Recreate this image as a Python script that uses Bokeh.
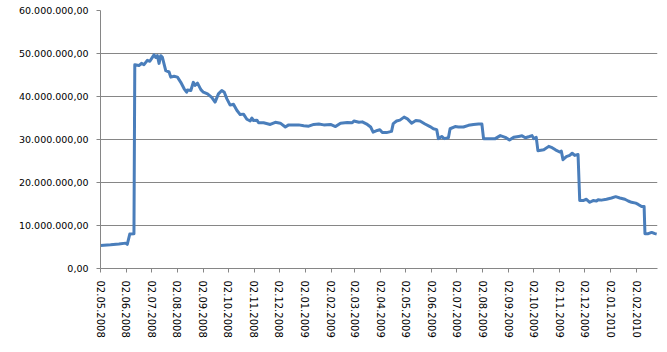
import pandas as pd
from bokeh.plotting import figure
from bokeh.models import Range1d, FixedTicker, DatetimeTickFormatter, CustomJSTickFormatter
from bokeh.embed import file_html
from bokeh.resources import INLINE

dates = [
    "2008-05-02", "2008-05-14", "2008-05-24", "2008-06-01", "2008-06-03", "2008-06-06",
    "2008-06-11", "2008-06-12", "2008-06-17", "2008-06-20", "2008-06-23", "2008-06-27",
    "2008-06-30", "2008-07-03", "2008-07-05", "2008-07-07", "2008-07-09", "2008-07-11",
    "2008-07-13", "2008-07-15", "2008-07-19", "2008-07-23", "2008-07-25", "2008-07-29",
    "2008-08-02", "2008-08-06", "2008-08-10", "2008-08-13", "2008-08-14", "2008-08-18",
    "2008-08-21", "2008-08-23", "2008-08-26", "2008-08-30", "2008-09-02", "2008-09-07",
    "2008-09-12", "2008-09-16", "2008-09-20", "2008-09-24", "2008-09-27", "2008-09-30",
    "2008-10-04", "2008-10-08", "2008-10-12", "2008-10-16", "2008-10-20", "2008-10-24",
    "2008-10-28", "2008-10-30", "2008-11-01", "2008-11-05", "2008-11-07", "2008-11-13",
    "2008-11-21", "2008-11-27", "2008-12-03", "2008-12-09", "2008-12-13", "2008-12-25",
    "2008-12-31", "2009-01-06", "2009-01-12", "2009-01-18", "2009-01-24", "2009-02-01",
    "2009-02-07", "2009-02-13", "2009-02-21", "2009-02-27", "2009-03-01", "2009-03-07",
    "2009-03-11", "2009-03-17", "2009-03-21", "2009-03-24", "2009-03-29", "2009-04-01",
    "2009-04-04", "2009-04-09", "2009-04-15", "2009-04-17", "2009-04-21", "2009-04-25",
    "2009-04-30", "2009-05-04", "2009-05-09", "2009-05-14", "2009-05-19", "2009-05-25",
    "2009-05-31", "2009-06-04", "2009-06-08", "2009-06-10", "2009-06-14", "2009-06-17",
    "2009-06-22", "2009-06-24", "2009-06-30", "2009-07-04", "2009-07-10", "2009-07-16",
    "2009-07-22", "2009-07-28", "2009-08-01", "2009-08-03", "2009-08-09", "2009-08-17",
    "2009-08-23", "2009-08-29", "2009-09-03", "2009-09-08", "2009-09-14", "2009-09-18",
    "2009-09-22", "2009-09-27", "2009-09-30", "2009-10-02", "2009-10-05", "2009-10-07",
    "2009-10-14", "2009-10-20", "2009-10-24", "2009-10-28", "2009-11-02", "2009-11-04",
    "2009-11-06", "2009-11-10", "2009-11-14", "2009-11-17", "2009-11-20", "2009-11-24",
    "2009-11-26", "2009-11-30", "2009-12-04", "2009-12-08", "2009-12-12", "2009-12-16",
    "2009-12-18", "2009-12-22", "2009-12-28", "2010-01-03", "2010-01-08", "2010-01-13",
    "2010-01-19", "2010-01-23", "2010-01-27", "2010-02-01", "2010-02-04", "2010-02-08",
    "2010-02-11", "2010-02-12", "2010-02-16", "2010-02-20", "2010-02-24", "2010-02-26",
]

values_mio = [
    5.35, 5.5, 5.7, 5.9, 5.6, 8.0,
    8.1, 47.4, 47.2, 47.7, 47.4, 48.4,
    48.2, 49.1, 49.7, 49.1, 49.5, 47.7,
    49.5, 49.1, 46.0, 45.7, 44.5, 44.7,
    44.5, 43.3, 41.8, 41.0, 41.5, 41.4,
    43.3, 42.6, 43.1, 41.6, 41.0, 40.6,
    39.8, 38.7, 40.6, 41.4, 41.0, 39.5,
    38.0, 38.2, 36.8, 35.8, 35.9, 34.7,
    34.3, 35.0, 34.4, 34.5, 33.9, 33.9,
    33.5, 34.0, 33.8, 32.9, 33.4, 33.4,
    33.2, 33.1, 33.5, 33.6, 33.4, 33.5,
    33.0, 33.8, 33.95, 33.9, 34.3, 34.0,
    34.1, 33.5, 32.9, 31.7, 32.1, 32.25,
    31.6, 31.6, 31.9, 33.7, 34.3, 34.5,
    35.2, 34.8, 33.8, 34.4, 34.3, 33.6,
    33.0, 32.5, 32.3, 30.2, 30.7, 30.2,
    30.4, 32.5, 33.0, 32.9, 32.9, 33.3,
    33.5, 33.6, 33.6, 30.2, 30.2, 30.2,
    30.9, 30.5, 29.9, 30.5, 30.7, 30.85,
    30.4, 30.7, 30.9, 30.2, 30.5, 27.4,
    27.6, 28.4, 28.1, 27.6, 27.1, 27.3,
    25.3, 26.0, 26.3, 26.8, 26.3, 26.5,
    15.8, 15.8, 16.1, 15.4, 15.8, 15.7,
    16.0, 15.9, 16.1, 16.4, 16.7, 16.4,
    16.1, 15.7, 15.4, 15.2, 14.9, 14.4,
    14.4, 8.1, 8.1, 8.4, 8.1, 8.0,
]

tick_dates = [
    "2008-05-02", "2008-06-02", "2008-07-02", "2008-08-02", "2008-09-02", "2008-10-02",
    "2008-11-02", "2008-12-02", "2009-01-02", "2009-02-02", "2009-03-02", "2009-04-02",
    "2009-05-02", "2009-06-02", "2009-07-02", "2009-08-02", "2009-09-02", "2009-10-02",
    "2009-11-02", "2009-12-02", "2010-01-02", "2010-02-02",
]
y_ticks = [0, 10000000, 20000000, 30000000, 40000000, 50000000, 60000000]

x = pd.to_datetime(dates)
y = [v * 1e6 for v in values_mio]

x_start = pd.Timestamp("2008-05-02")
x_end = pd.Timestamp("2010-02-27")

p = figure(width=667, height=352, x_axis_type="datetime", output_backend="svg",
           toolbar_location=None,
           x_range=Range1d(x_start, x_end), y_range=Range1d(0, 60000000),
           min_border_left=100, min_border_right=10, min_border_top=10, min_border_bottom=84)
p.outline_line_color = None
p.background_fill_color = "white"
p.border_fill_color = "white"

p.line(x, y, line_color="#4a7ebb", line_width=3, line_join="round")

grid_col = "#868686"
font = "DejaVu Sans"

p.xgrid.visible = False
p.ygrid.grid_line_color = grid_col
p.ygrid.grid_line_width = 1
p.ygrid.ticker = FixedTicker(ticks=y_ticks)

tick_ms = [pd.Timestamp(d).value // 10**6 for d in tick_dates]
xa = p.xaxis[0]
xa.ticker = FixedTicker(ticks=tick_ms, minor_ticks=[])
fmt = "%d.%m.%Y"
xa.formatter = DatetimeTickFormatter(
    microseconds=fmt, milliseconds=fmt, seconds=fmt, minsec=fmt, minutes=fmt,
    hourmin=fmt, hours=fmt, days=fmt, months=fmt, years=fmt)
xa.major_label_orientation = "vertical"
xa.axis_line_color = grid_col
xa.major_tick_line_color = grid_col
xa.major_tick_in = 0
xa.major_tick_out = 4
xa.minor_tick_line_color = None
xa.major_label_text_font = font
xa.major_label_text_font_size = "10px"
xa.major_label_text_color = "#000000"
xa.major_label_standoff = 8

ya = p.yaxis[0]
ya.ticker = FixedTicker(ticks=y_ticks, minor_ticks=[])
ya.formatter = CustomJSTickFormatter(code="""
const s = Math.round(tick).toString().replace(/\\B(?=(\\d{3})+(?!\\d))/g, ".");
return s + ",00";
""")
ya.axis_line_color = grid_col
ya.major_tick_line_color = grid_col
ya.major_tick_in = 0
ya.major_tick_out = 4
ya.minor_tick_line_color = None
ya.major_label_text_font = font
ya.major_label_text_font_size = "9.5px"
ya.major_label_text_color = "#000000"
ya.major_label_standoff = 8

open("out.html", "w").write(file_html(p, INLINE))
